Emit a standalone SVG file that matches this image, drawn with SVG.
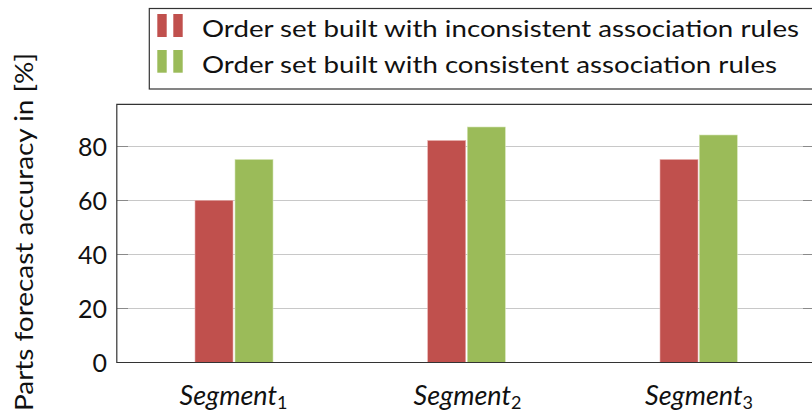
<svg xmlns="http://www.w3.org/2000/svg" width="812" height="412" viewBox="0 0 812 412">
<style>
text{font-family:Lato,"DejaVu Sans",sans-serif;fill:#111}
.grid{stroke:#c8c8c8;stroke-width:1}
.tick{stroke:#8a8a8a;stroke-width:1}
.frame{fill:none;stroke:#333;stroke-width:1.2}
.red{fill:#c0504d;stroke:#e8b0ae;stroke-width:0.6}
.green{fill:#9bbb59;stroke:#d4e4b4;stroke-width:0.6}
.tl{font-size:25px;text-anchor:end}
.seg{font-size:27px;font-style:italic;text-anchor:middle}
.lg{font-size:24px}
</style>
<rect width="812" height="412" fill="#fff"/>
<g id="grid">
<line class="grid" x1="117" y1="308.5" x2="812" y2="308.5"/>
<line class="grid" x1="117" y1="254.5" x2="812" y2="254.5"/>
<line class="grid" x1="117" y1="200.5" x2="812" y2="200.5"/>
<line class="grid" x1="117" y1="146.5" x2="812" y2="146.5"/>
<line class="tick" x1="117" y1="308.5" x2="128" y2="308.5"/>
<line class="tick" x1="117" y1="254.5" x2="128" y2="254.5"/>
<line class="tick" x1="117" y1="200.5" x2="128" y2="200.5"/>
<line class="tick" x1="117" y1="146.5" x2="128" y2="146.5"/>
<line class="tick" x1="803" y1="308.5" x2="812" y2="308.5"/>
<line class="tick" x1="803" y1="254.5" x2="812" y2="254.5"/>
<line class="tick" x1="803" y1="200.5" x2="812" y2="200.5"/>
<line class="tick" x1="803" y1="146.5" x2="812" y2="146.5"/>
</g>
<g id="bars">
<rect class="red" x="195" y="200.3" width="38" height="162.2"/>
<rect class="green" x="235" y="159.5" width="38" height="203"/>
<rect class="red" x="427.7" y="140.5" width="38" height="222"/>
<rect class="green" x="467.3" y="127" width="38" height="235.5"/>
<rect class="red" x="660" y="159.5" width="38" height="203"/>
<rect class="green" x="699.3" y="135" width="38" height="227.5"/>
</g>
<path class="frame" d="M830 104.3 H116.8 V362.5 H830"/>
<g id="yticks">
<text class="tl" x="107" y="372">0</text>
<text class="tl" x="107" y="318">20</text>
<text class="tl" x="107" y="264">40</text>
<text class="tl" x="107" y="210">60</text>
<text class="tl" x="107" y="156">80</text>
</g>
<text font-size="25" text-anchor="middle" transform="translate(33 232) rotate(-90)" textLength="358" lengthAdjust="spacingAndGlyphs">Parts forecast accuracy in [%]</text>
<g id="xlabels">
<text class="seg" x="233.5" y="405">Segment<tspan font-size="18" font-style="normal" dy="4">1</tspan></text>
<text class="seg" x="467.5" y="405">Segment<tspan font-size="18" font-style="normal" dy="4">2</tspan></text>
<text class="seg" x="699" y="405">Segment<tspan font-size="18" font-style="normal" dy="4">3</tspan></text>
</g>
<g id="legend">
<rect x="149.3" y="8.5" width="700" height="80.5" fill="#fff" stroke="#333" stroke-width="1.2"/>
<rect x="157.3" y="14" width="9.4" height="23" fill="#c0504d"/>
<rect x="173.3" y="14" width="9.4" height="23" fill="#c0504d"/>
<rect x="157.3" y="50" width="9.4" height="22.7" fill="#9bbb59"/>
<rect x="173.3" y="50" width="9.4" height="22.7" fill="#9bbb59"/>
<text class="lg" x="202" y="37.3" textLength="597" lengthAdjust="spacingAndGlyphs">Order set built with inconsistent association rules</text>
<text class="lg" x="202" y="72.7" textLength="575" lengthAdjust="spacingAndGlyphs">Order set built with consistent association rules</text>
</g>
</svg>
